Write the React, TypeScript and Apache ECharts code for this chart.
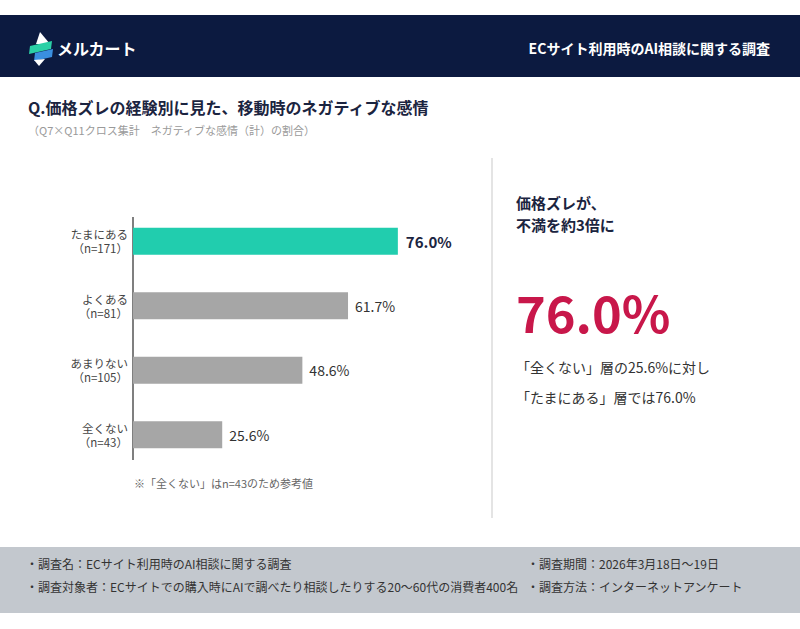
import React, { useEffect, useRef } from "react";
import * as echarts from "echarts";

const categories = ["たまにある", "よくある", "あまりない", "全くない"];
const sampleSizes = [171, 81, 105, 43];
const values = [76.0, 61.7, 48.6, 25.6];
const highlightIndex = 0;

const headerTitle = "ECサイト利用時のAI相談に関する調査";
const brandName = "メルカート";
const chartTitle = "Q.価格ズレの経験別に見た、移動時のネガティブな感情";
const chartSubtitle = "（Q7×Q11クロス集計　ネガティブな感情（計）の割合）";
const chartNote = "※「全くない」はn=43のため参考値";
const insightLines = ["価格ズレが、", "不満を約3倍に"];
const insightValue = "76.0%";
const insightDetail = ["「全くない」層の25.6%に対し", "「たまにある」層では76.0%"];
const footerLeft = [
  "・調査名：ECサイト利用時のAI相談に関する調査",
  "・調査対象者：ECサイトでの購入時にAIで調べたり相談したりする20〜60代の消費者400名",
];
const footerRight = ["・調査期間：2026年3月18日〜19日", "・調査方法：インターネットアンケート"];

const FONT = '"Noto Sans CJK JP", "Noto Sans", sans-serif';
const NAVY = "#0c1a40";
const DARK = "#1b2440";
const TEAL = "#21cdae";
const GRAY = "#a6a6a6";
const RED = "#c8174a";

export default function App() {
  const ref = useRef<HTMLDivElement>(null);
  useEffect(() => {
    document.body.style.margin = "0";
    const chart = echarts.init(ref.current!, null, { renderer: "svg" });
    const txt = (
      text: string,
      x: number,
      y: number,
      size: number,
      fill: string,
      weight: any = "normal",
      align: string = "left"
    ) => ({
      type: "text",
      x,
      y,
      silent: true,
      style: {
        text,
        fill,
        fontSize: size,
        fontWeight: weight,
        fontFamily: FONT,
        align,
        verticalAlign: "middle",
      },
    });
    chart.setOption({
      animation: false,
      backgroundColor: "#ffffff",
      textStyle: { fontFamily: FONT },
      grid: { left: 133, width: 348.5, top: 209, height: 258, containLabel: false },
      xAxis: { type: "value", min: 0, max: 100, show: false },
      yAxis: {
        type: "category",
        inverse: true,
        data: categories,
        axisLine: { show: false },
        axisTick: { show: false },
        splitLine: { show: false },
        axisLabel: {
          margin: 5,
          fontSize: 11.5,
          lineHeight: 14,
          color: "#444444",
          fontFamily: FONT,
          align: "right",
          formatter: (v: string, i: number) => `${v}\n（n=${sampleSizes[i]}）`,
        },
      },
      series: [
        {
          type: "bar",
          barWidth: 27,
          data: values.map((v, i) => ({
            value: v,
            itemStyle: { color: i === highlightIndex ? TEAL : GRAY },
            label:
              i === highlightIndex
                ? { fontWeight: "bold", fontSize: 15, color: DARK, distance: 8 }
                : {},
          })),
          label: {
            show: true,
            position: "right",
            distance: 7,
            fontSize: 14,
            color: "#333333",
            fontFamily: FONT,
            formatter: (p: any) => `${Number(p.value).toFixed(1)}%`,
          },
        },
      ],
      graphic: [
        { type: "rect", silent: true, shape: { x: 0, y: 15, width: 800, height: 62 }, style: { fill: NAVY } },
        // logo
        { type: "polygon", silent: true, shape: { points: [[40, 32], [50, 44], [36, 44]] }, style: { fill: "#ffffff" } },
        { type: "polygon", silent: true, shape: { points: [[30, 46], [52, 41], [51, 49], [29, 54]] }, style: { fill: "#2bd0a6" } },
        { type: "polygon", silent: true, shape: { points: [[35, 53], [53, 49], [52, 57], [34, 61]] }, style: { fill: "#3a8fe0" } },
        { type: "polygon", silent: true, shape: { points: [[34, 60], [45, 59], [39, 66]] }, style: { fill: "#ffffff" } },
        txt(brandName, 57, 48, 16, "#ffffff", "bold"),
        txt(headerTitle, 770, 48, 14, "#ffffff", "bold", "right"),
        txt(chartTitle, 28, 107, 16, DARK, "bold"),
        txt(chartSubtitle, 28, 130, 11, "#9a9a9a"),
        { type: "line", silent: true, shape: { x1: 133, y1: 217, x2: 133, y2: 460 }, style: { stroke: "#555555", lineWidth: 1.5 } },
        txt(chartNote, 134, 483, 11, "#666666"),
        { type: "line", silent: true, shape: { x1: 492, y1: 158, x2: 492, y2: 518 }, style: { stroke: "#e4e4e4", lineWidth: 2 } },
        txt(insightLines[0], 516, 202, 15, DARK, "bold"),
        txt(insightLines[1], 516, 224, 15, DARK, "bold"),
        txt(insightValue, 516, 311, 50.5, RED, "bold"),
        txt(insightDetail[0], 516, 367, 14, "#333333"),
        txt(insightDetail[1], 516, 397, 14, "#333333"),
        { type: "rect", silent: true, shape: { x: 0, y: 547, width: 800, height: 66 }, style: { fill: "#c3c8ce" } },
        txt(footerLeft[0], 26, 563, 12, "#333333"),
        txt(footerLeft[1], 26, 586, 12, "#333333"),
        txt(footerRight[0], 527, 563, 12, "#333333"),
        txt(footerRight[1], 527, 586, 12, "#333333"),
      ],
    });
    return () => chart.dispose();
  }, []);
  return <div ref={ref} style={{ width: 800, height: 629 }} />;
}
